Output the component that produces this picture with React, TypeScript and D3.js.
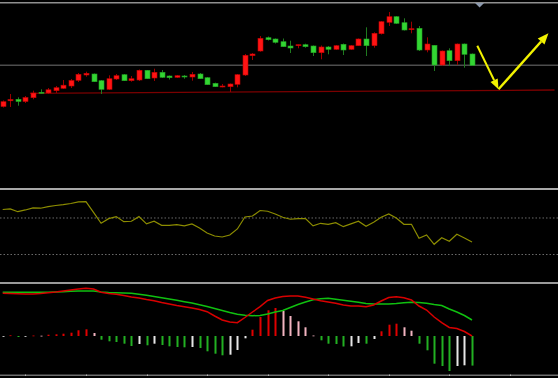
import React from 'react';
import * as d3 from 'd3';

const W = 558;
const H = 378;

// Candles (price)
const opens = [1.10935,1.10992,1.11007,1.10985,1.11023,1.11077,1.11070,1.11093,1.11117,1.11140,1.11197,1.11250,1.11260,1.11193,1.11107,1.11210,1.11253,1.11193,1.11200,1.11297,1.11220,1.11277,1.11240,1.11227,1.11240,1.11230,1.11260,1.11223,1.11167,1.11133,1.11133,1.11157,1.11250,1.11443,1.11490,1.11623,1.11610,1.11583,1.11540,1.11547,1.11553,1.11540,1.11473,1.11530,1.11507,1.11557,1.11507,1.11543,1.11610,1.11543,1.11663,1.11777,1.11833,1.11773,1.11703,1.11717,1.11500,1.11547,1.11350,1.11493,1.11393,1.11560,1.11460];
const highs = [1.10995,1.11060,1.11027,1.11040,1.11093,1.11107,1.11120,1.11140,1.11200,1.11210,1.11270,1.11283,1.11265,1.11200,1.11247,1.11260,1.11260,1.11240,1.11305,1.11300,1.11313,1.11300,1.11245,1.11250,1.11250,1.11280,1.11270,1.11230,1.11173,1.11160,1.11165,1.11260,1.11460,1.11470,1.11640,1.11635,1.11615,1.11615,1.11593,1.11555,1.11563,1.11545,1.11545,1.11540,1.11550,1.11565,1.11550,1.11615,1.11727,1.11677,1.11790,1.11880,1.11840,1.11817,1.11783,1.11740,1.11627,1.11550,1.11495,1.11517,1.11565,1.11565,1.11465];
const lows = [1.10925,1.10930,1.10943,1.10970,1.11007,1.11065,1.11060,1.11070,1.11110,1.11120,1.11180,1.11233,1.11180,1.11060,1.11100,1.11200,1.11190,1.11183,1.11190,1.11210,1.11190,1.11220,1.11205,1.11220,1.11213,1.11193,1.11210,1.11150,1.11130,1.11127,1.11080,1.11127,1.11240,1.11400,1.11483,1.11595,1.11565,1.11530,1.11470,1.11517,1.11523,1.11440,1.11407,1.11457,1.11500,1.11450,1.11500,1.11540,1.11440,1.11523,1.11655,1.11740,1.11760,1.11695,1.11667,1.11490,1.11477,1.11290,1.11345,1.11340,1.11350,1.11323,1.11342];
const closes = [1.10983,1.11005,1.10985,1.11025,1.11070,1.11070,1.11102,1.11123,1.11148,1.11195,1.11257,1.11267,1.11183,1.11107,1.11213,1.11243,1.11193,1.11213,1.11297,1.11213,1.11277,1.11227,1.11223,1.11243,1.11230,1.11257,1.11213,1.11153,1.11133,1.11140,1.11160,1.11253,1.11447,1.11460,1.11617,1.11603,1.11577,1.11533,1.11520,1.11553,1.11533,1.11473,1.11530,1.11507,1.11543,1.11500,1.11543,1.11610,1.11543,1.11667,1.11783,1.11833,1.11767,1.11700,1.11713,1.11500,1.11560,1.11350,1.11490,1.11393,1.11560,1.11457,1.11347];

// RSI
const rsiValues = [79.3,79.9,76.9,78.8,81.0,80.7,82.4,83.7,84.6,85.9,87.6,87.9,76.1,64.2,69.3,71.5,66.0,66.4,71.5,63.5,66.4,62.0,62.0,62.7,61.3,63.5,59.1,53.6,50.3,49.2,51.4,58.0,71.1,72.2,78.2,77.4,74.4,70.8,68.6,69.3,69.3,61.3,64.2,63.1,64.9,60.5,63.5,66.4,60.9,65.3,70.8,74.4,70.0,63.1,63.1,47.8,51.4,41.2,48.4,44.5,52.2,48.1,43.7];
const rsiLevels = [70, 30];

// MACD (points)
const macdHist = [-0.5,0.7,-1,-0.7,0.5,0.3,1.3,1.7,2.3,3.3,5.7,6.7,3,-3.7,-5.3,-6,-7.7,-10,-8,-9.3,-7.7,-9,-10.3,-11,-11.3,-11,-12,-15.3,-17.7,-19.3,-18.7,-14,-2.3,6.3,19,25.7,28,25,20,14.7,8.7,0.5,-4.3,-7.7,-8,-10.5,-10.3,-7,-7.7,-3,4.7,11.3,12.3,8.7,5.3,-7.7,-14.3,-27.7,-30,-35,-30,-29.3,-29.6];
const macdMain = [42.7,42.5,42.2,42,42,42.5,43.2,44,45,46,47,47.7,47,43.7,42.5,41.7,40.5,39,38,36.5,35.3,33.5,32,30.5,29.3,28,26.5,24.3,20,16,14,13.3,18.5,24,29.3,35.5,38,39.5,40,40,38.7,37,35.3,34,32.7,31,30,30,29.3,31,35,38.5,39.3,38.3,36,30,26,19,13.3,8.5,7.5,4.5,0];
const macdSignal = [43.7,43.7,43.7,43.7,43.7,43.7,43.7,44,44.3,44.7,45,45,45,44,43.5,43.2,43,42.7,41.7,40.7,39.5,38.3,37,35.7,34.3,33,31.3,29.5,27.5,25.5,23.5,21.7,20.7,20.3,20.5,22,24,25.5,28.5,31.5,34,36.3,37.3,37.7,36.8,35.7,34.7,33.7,32.5,32,32,32,32.5,33.2,33.7,33.5,32.7,31.5,30.5,27,24,20.5,16];

// Annotations (bar index / price)
const priceLevel = 1.1135;
const trendIdx = [3.6, 72.9];
const trendPrice = [1.11067, 1.11100];
const arrowIdx = [62.7, 65.5, 72.1];
const arrowPrice = [1.11543, 1.11107, 1.11667];
const timeTickIdx = [3, 11, 19, 27, 35, 43, 51, 59, 67];
const currentBarIdx = 63;

function arrowHead(x1: number, y1: number, x2: number, y2: number, len: number, half: number) {
  const dx = x2 - x1, dy = y2 - y1;
  const L = Math.hypot(dx, dy);
  const ux = dx / L, uy = dy / L;
  const bx = x2 - ux * len, by = y2 - uy * len;
  const px = -uy, py = ux;
  return {
    pts: `${x2},${y2} ${bx + px * half},${by + py * half} ${bx - px * half},${by - py * half}`,
    bx, by,
  };
}

export default function App() {
  React.useEffect(() => {
    document.body.style.margin = '0';
    document.body.style.background = '#000';
  }, []);

  const n = closes.length;
  const x = d3.scaleLinear().domain([0, n - 1]).range([2.7, 472]);
  const yP = d3.scaleLinear().domain([1.1014, 1.1198]).range([186, 2]);
  const yR = d3.scaleLinear().domain([0, 100]).range([281.9, 190.6]);
  const yM = d3.scaleLinear().domain([-38, 52]).range([374, 284]);

  const idx = d3.range(n);
  const rsiLine = d3.line<number>().x((i) => x(i)).y((i) => yR(rsiValues[i]))(idx) || '';
  const mainLine = d3.line<number>().x((i) => x(i)).y((i) => yM(macdMain[i]))(idx) || '';
  const sigLine = d3.line<number>().x((i) => x(i)).y((i) => yM(macdSignal[i]))(idx) || '';

  const histColor = (i: number) => {
    const v = macdHist[i];
    const prev = i > 0 ? macdHist[i - 1] : v;
    if (v >= 0) return v >= prev && i > 0 ? '#e00000' : '#f2b4c0';
    return v < prev ? '#22b022' : '#e6e6e6';
  };

  const ax = arrowIdx.map((v) => x(v));
  const ay = arrowPrice.map((v) => yP(v));
  const h1 = arrowHead(ax[0], ay[0], ax[1], ay[1], 10, 4);
  const h2 = arrowHead(ax[1], ay[1], ax[2], ay[2], 11, 4.5);

  const tri = x(currentBarIdx);

  return (
    <svg width={W} height={H} style={{ position: 'fixed', left: 0, top: 0, background: '#000', display: 'block' }}>
      <rect x={0} y={0} width={W} height={H} fill="#000" />
      {/* top border */}
      <rect x={0} y={2} width={W} height={1.5} fill="#8f8f8f" />
      <polygon points={`${tri - 4.5},3 ${tri + 4.5},3 ${tri},7.5`} fill="#8c99ad" />

      {/* price level */}
      <rect x={0} y={yP(priceLevel) - 0.5} width={W} height={1.5} fill="#4d4d4d" />
      {/* support trend */}
      <line x1={x(trendIdx[0])} y1={yP(trendPrice[0])} x2={x(trendIdx[1])} y2={yP(trendPrice[1])} stroke="#7a0000" strokeWidth={1.3} />

      {/* candles */}
      {idx.map((i) => {
        const up = closes[i] >= opens[i];
        const cx = Math.round(x(i)) + 0.5;
        const top = yP(Math.max(opens[i], closes[i]));
        const bot = yP(Math.min(opens[i], closes[i]));
        const bh = Math.max(1, bot - top);
        return (
          <g key={i}>
            <line x1={cx} x2={cx} y1={yP(highs[i])} y2={yP(lows[i])} stroke={up ? '#9a0000' : '#1f7a1f'} strokeWidth={1} />
            <rect x={cx - 2.5} y={top} width={5} height={bh} fill={up ? '#ff1414' : '#33d633'} stroke={up ? '#c00000' : '#22a022'} strokeWidth={0.6} />
          </g>
        );
      })}

      {/* arrows */}
      <line x1={ax[0]} y1={ay[0]} x2={h1.bx} y2={h1.by} stroke="#f2f200" strokeWidth={2} />
      <polygon points={h1.pts} fill="#f2f200" />
      <line x1={ax[1]} y1={ay[1]} x2={h2.bx} y2={h2.by} stroke="#f2f200" strokeWidth={2.4} />
      <polygon points={h2.pts} fill="#f2f200" />

      {/* separator */}
      <rect x={0} y={188} width={W} height={2} fill="#a8a8a8" />

      {/* RSI */}
      {rsiLevels.map((lv) => (
        <line key={lv} x1={0} x2={W} y1={yR(lv)} y2={yR(lv)} stroke="#6a6a6a" strokeWidth={1} strokeDasharray="1.5,2" />
      ))}
      <path d={rsiLine} fill="none" stroke="#8c8c00" strokeWidth={1.2} />

      {/* separator */}
      <rect x={0} y={282} width={W} height={2} fill="#9a9a9a" />

      {/* MACD histogram */}
      {idx.map((i) => {
        const v = macdHist[i];
        const y0 = yM(0);
        const y1 = yM(v);
        return (
          <rect key={i} x={Math.round(x(i)) - 0.5} y={Math.min(y0, y1)} width={2} height={Math.max(0.8, Math.abs(y1 - y0))} fill={histColor(i)} />
        );
      })}
      <path d={sigLine} fill="none" stroke="#10c010" strokeWidth={1.5} />
      <path d={mainLine} fill="none" stroke="#d80000" strokeWidth={1.5} />

      {/* bottom border */}
      <rect x={0} y={374.5} width={W} height={1.5} fill="#6e6e6e" />
      {timeTickIdx.map((t) => (
        <rect key={t} x={Math.round(x(t))} y={374.5} width={1} height={1.5} fill="#b0b0b0" />
      ))}
    </svg>
  );
}
